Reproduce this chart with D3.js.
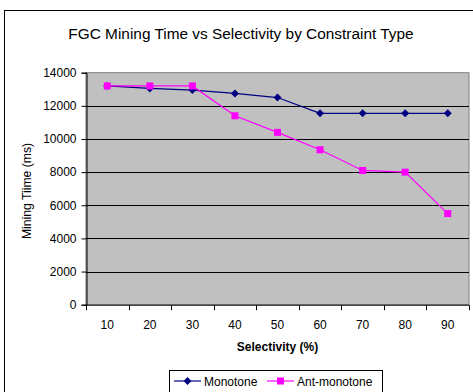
<!DOCTYPE html>
<html>
<head>
<meta charset="utf-8">
<script src="https://cdn.jsdelivr.net/npm/d3@7"></script>
<style>
  html, body { margin: 0; padding: 0; background: #fff; }
  svg { display: block; font-family: "Liberation Sans", Arial, sans-serif; }
</style>
</head>
<body>
<svg id="chart" width="473" height="392"></svg>
<script>
// Selectivity (%) categories and mining time (ms) per constraint type
const categories = ["10", "20", "30", "40", "50", "60", "70", "80", "90"];
const monotone = [13200, 13050, 12950, 12750, 12500, 11550, 11550, 11550, 11550];
const antiMonotone = [13200, 13200, 13200, 11400, 10400, 9350, 8100, 8000, 5500];
const yTicks = [0, 2000, 4000, 6000, 8000, 10000, 12000, 14000];
const seriesNames = ["Monotone", "Ant-monotone"];

const svg = d3.select("#chart");
const plot = { left: 86, right: 469, top: 72.7, bottom: 304.7 };
const fontFamily = "Liberation Sans, Arial, sans-serif";

// Outer chart frame
svg.append("rect")
  .attr("x", 4.5).attr("y", 10.5)
  .attr("width", 480).attr("height", 400)
  .attr("fill", "#fff").attr("stroke", "#000").attr("stroke-width", 1);

// Title
svg.append("text")
  .attr("x", 241).attr("y", 39)
  .attr("text-anchor", "middle")
  .attr("font-size", 15.4)
  .text("FGC Mining Time vs Selectivity by Constraint Type");

const x = d3.scaleBand().domain(categories).range([plot.left, plot.right]);
const y = d3.scaleLinear().domain([0, 14000]).range([plot.bottom, plot.top]);

// Plot background
svg.append("rect")
  .attr("x", plot.left).attr("y", plot.top)
  .attr("width", plot.right - plot.left).attr("height", plot.bottom - plot.top)
  .attr("fill", "#c0c0c0").attr("stroke", "#808080").attr("stroke-width", 1);

// Horizontal gridlines
svg.append("g")
  .selectAll("line")
  .data(yTicks.filter(d => d > 0 && d < 14000))
  .join("line")
  .attr("x1", plot.left).attr("x2", plot.right)
  .attr("y1", d => Math.round(y(d)) + 0.5).attr("y2", d => Math.round(y(d)) + 0.5)
  .attr("stroke", "#000").attr("stroke-width", 1);

// Y axis
const yAxis = svg.append("g")
  .attr("transform", `translate(${plot.left + 0.5},0)`)
  .call(d3.axisLeft(y).tickValues(yTicks).tickFormat(d3.format("d")).tickSize(5).tickPadding(5));
yAxis.selectAll("text").attr("font-size", 12).attr("fill", "#000").attr("font-family", fontFamily);
yAxis.selectAll("line, path").attr("stroke", "#000");

// X axis (ticks at category boundaries)
const xAxis = svg.append("g")
  .attr("transform", `translate(0,${plot.bottom + 0.5})`);
xAxis.append("line")
  .attr("x1", plot.left).attr("x2", plot.right)
  .attr("stroke", "#000");
xAxis.selectAll("line.tick")
  .data(categories.concat(["end"]))
  .join("line")
  .attr("class", "tick")
  .attr("x1", (d, i) => Math.round(i < categories.length ? x(d) : plot.right) + 0.5)
  .attr("x2", (d, i) => Math.round(i < categories.length ? x(d) : plot.right) + 0.5)
  .attr("y1", 0).attr("y2", 5)
  .attr("stroke", "#000");
xAxis.selectAll("text")
  .data(categories)
  .join("text")
  .attr("x", d => x(d) + x.bandwidth() / 2)
  .attr("y", 24)
  .attr("text-anchor", "middle")
  .attr("font-size", 12)
  .text(d => d);

// Axis titles
svg.append("text")
  .attr("x", (plot.left + plot.right) / 2).attr("y", 351)
  .attr("text-anchor", "middle")
  .attr("font-size", 12).attr("font-weight", "bold")
  .text("Selectivity (%)");

svg.append("text")
  .attr("transform", "translate(31,191) rotate(-90)")
  .attr("text-anchor", "middle")
  .attr("font-size", 12.2)
  .text("Mining Tiime (ms)");

const cx = d => x(d) + x.bandwidth() / 2;
const line = d3.line().x(d => cx(d.cat)).y(d => y(d.v));

const series = [
  { name: seriesNames[0], values: monotone, color: "#000080", marker: "diamond" },
  { name: seriesNames[1], values: antiMonotone, color: "#ff00ff", marker: "square" }
];

function drawMarker(g, s, px, py) {
  if (s.marker === "square") {
    g.append("rect")
      .attr("x", px - 3.5).attr("y", py - 3.5)
      .attr("width", 7).attr("height", 7)
      .attr("fill", s.color);
  } else {
    g.append("path")
      .attr("d", "M0,-4L4,0L0,4L-4,0Z")
      .attr("transform", `translate(${px},${py})`)
      .attr("fill", s.color);
  }
}

series.forEach(s => {
  const pts = categories.map((c, i) => ({ cat: c, v: s.values[i] }));
  const g = svg.append("g");
  g.append("path")
    .datum(pts)
    .attr("d", line)
    .attr("fill", "none")
    .attr("stroke", s.color)
    .attr("stroke-width", 1.2);
  pts.forEach(p => drawMarker(g, s, cx(p.cat), y(p.v)));
});

// Legend
const legend = svg.append("g");
legend.append("rect")
  .attr("x", 169.5).attr("y", 370.5)
  .attr("width", 213).attr("height", 30)
  .attr("fill", "#fff").attr("stroke", "#000");

const legendItems = [
  { s: series[0], x0: 174, x1: 201, tx: 204 },
  { s: series[1], x0: 267, x1: 294, tx: 297 }
];
legendItems.forEach(item => {
  const g = legend.append("g");
  g.append("line")
    .attr("x1", item.x0).attr("x2", item.x1)
    .attr("y1", 381).attr("y2", 381)
    .attr("stroke", item.s.color).attr("stroke-width", 1.2);
  drawMarker(g, item.s, (item.x0 + item.x1) / 2, 381);
  g.append("text")
    .attr("x", item.tx).attr("y", 385.5)
    .attr("font-size", 12)
    .text(item.s.name);
});
</script>
</body>
</html>
